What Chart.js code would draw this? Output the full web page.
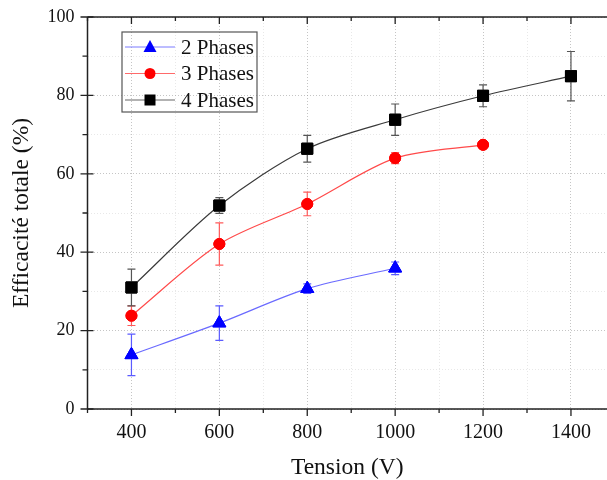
<!DOCTYPE html>
<html>
<head>
<meta charset="utf-8">
<script src="https://cdn.jsdelivr.net/npm/chart.js@4.4.0/dist/chart.umd.min.js"></script>
<style>
  html, body { margin: 0; padding: 0; background: #fff; }
  #wrap { width: 607px; height: 480px; }
</style>
</head>
<body>
<div id="wrap"><canvas id="effChart" width="607" height="480"></canvas></div>
<script>
// tension (V)
const tension = [400, 600, 800, 1000, 1200, 1400];

// efficacite totale (%) and error bars
const phases2 = [13.8, 21.9, 30.7, 35.9];
const phases2Err = [5.3, 4.4, 1.2, 1.6];
const phases3 = [23.8, 42.1, 52.3, 64.0, 67.4];
const phases3Err = [2.5, 5.4, 3.0, 1.4, 0.8];
const phases4 = [31.0, 51.9, 66.4, 73.8, 79.9, 84.9];
const phases4Err = [4.7, 2.0, 3.4, 4.0, 2.8, 6.3];

const serif = "'Liberation Serif', 'Times New Roman', serif";

function toPoints(ys) {
    return ys.map((y, i) => ({ x: tension[i], y: y }));
}

// error bars drawn from the y scale
const errorBars = {
    id: 'errorBars',
    afterDatasetsDraw(chart) {
        const ctx = chart.ctx;
        const yScale = chart.scales.y;
        chart.data.datasets.forEach((ds, di) => {
            const meta = chart.getDatasetMeta(di);
            ctx.save();
            ctx.strokeStyle = ds.errColor;
            ctx.lineWidth = 1.2;
            meta.data.forEach((pt, i) => {
                const v = ds.data[i].y;
                const e = ds.errors[i];
                const top = yScale.getPixelForValue(v + e);
                const bot = yScale.getPixelForValue(v - e);
                ctx.beginPath();
                ctx.moveTo(pt.x, top); ctx.lineTo(pt.x, bot);
                ctx.moveTo(pt.x - 4, top); ctx.lineTo(pt.x + 4, top);
                ctx.moveTo(pt.x - 4, bot); ctx.lineTo(pt.x + 4, bot);
                ctx.stroke();
            });
            ctx.restore();
            // redraw markers over the bars
            meta.data.forEach(pt => pt.draw(ctx, chart.chartArea));
        });
    }
};

// frame, ticks and the boxed legend
const frame = {
    id: 'frame',
    afterDraw(chart) {
        const ctx = chart.ctx;
        const a = chart.chartArea;
        const xs = chart.scales.x, ys = chart.scales.y;
        ctx.save();
        ctx.strokeStyle = '#222';
        ctx.lineWidth = 1.5;
        ctx.beginPath();
        ctx.moveTo(a.left, a.top); ctx.lineTo(a.right, a.top);
        ctx.moveTo(a.left, a.top); ctx.lineTo(a.left, a.bottom);
        ctx.moveTo(a.left, a.bottom); ctx.lineTo(a.right, a.bottom);
        ctx.stroke();

        ctx.lineWidth = 1.3;
        ctx.beginPath();
        xs.ticks.forEach(t => {
            const px = xs.getPixelForValue(t.value);
            const major = t.value % 200 === 0;
            const len = major ? 7 : 4;
            ctx.moveTo(px, a.bottom); ctx.lineTo(px, a.bottom + len);
            ctx.moveTo(px, a.top); ctx.lineTo(px, a.top + len);
        });
        ys.ticks.forEach(t => {
            const py = ys.getPixelForValue(t.value);
            const major = t.value % 20 === 0;
            if (major) {
                ctx.moveTo(a.left - 7, py); ctx.lineTo(a.left + 6, py);
            } else {
                ctx.moveTo(a.left - 5, py); ctx.lineTo(a.left, py);
            }
        });
        ctx.stroke();

        // legend
        const bx = 122, by = 32, bw = 135, bh = 80;
        ctx.strokeStyle = '#555';
        ctx.lineWidth = 1.2;
        ctx.strokeRect(bx, by, bw, bh);
        ctx.font = '21px ' + serif;
        ctx.textBaseline = 'middle';
        chart.data.datasets.forEach((ds, i) => {
            const y = by + 15 + i * 26.5;
            ctx.strokeStyle = ds.legendLine;
            ctx.lineWidth = 1;
            ctx.beginPath();
            ctx.moveTo(bx + 3, y); ctx.lineTo(bx + 53, y);
            ctx.stroke();
            ctx.fillStyle = ds.pointBackgroundColor;
            ctx.beginPath();
            if (ds.pointStyle === 'triangle') {
                ctx.moveTo(bx + 28, y - 7);
                ctx.lineTo(bx + 34.5, y + 5);
                ctx.lineTo(bx + 21.5, y + 5);
                ctx.closePath();
            } else if (ds.pointStyle === 'circle') {
                ctx.arc(bx + 28, y, 5.5, 0, Math.PI * 2);
            } else {
                ctx.rect(bx + 22.5, y - 5.5, 11, 11);
            }
            ctx.fill();
            ctx.fillStyle = '#111';
            ctx.fillText(ds.label, bx + 59, y + 1);
        });
        ctx.restore();
    }
};

const gridColor = (major) => major ? 'rgba(150,150,150,0.55)' : 'rgba(190,190,190,0.35)';

new Chart(document.getElementById('effChart').getContext('2d'), {
    type: 'line',
    data: {
        datasets: [
            {
                label: '2 Phases',
                data: toPoints(phases2),
                errors: phases2Err,
                errColor: '#5b5bff',
                legendLine: '#7a7aff',
                borderColor: '#6a6aff',
                borderWidth: 1.2,
                pointStyle: 'triangle',
                pointRadius: 7.5,
                pointBackgroundColor: '#0000ff',
                pointBorderColor: '#0000ff',
                pointBorderWidth: 1,
                tension: 0.3,
                fill: false
            },
            {
                label: '3 Phases',
                data: toPoints(phases3),
                errors: phases3Err,
                errColor: '#ff5a5a',
                legendLine: '#ff6a6a',
                borderColor: '#ff4a4a',
                borderWidth: 1.2,
                pointStyle: 'circle',
                pointRadius: 5.5,
                pointBackgroundColor: '#ff0000',
                pointBorderColor: '#ff0000',
                pointBorderWidth: 1,
                tension: 0.3,
                fill: false
            },
            {
                label: '4 Phases',
                data: toPoints(phases4),
                errors: phases4Err,
                errColor: '#555555',
                legendLine: '#666666',
                borderColor: '#3a3a3a',
                borderWidth: 1.2,
                pointStyle: 'rect',
                pointRadius: 7.8,
                pointBackgroundColor: '#000000',
                pointBorderColor: '#000000',
                pointBorderWidth: 1,
                tension: 0.3,
                fill: false
            }
        ]
    },
    options: {
        responsive: false,
        animation: false,
        layout: { autoPadding: false, padding: { top: 17, right: 0, left: 0, bottom: 0 } },
        plugins: {
            legend: { display: false },
            tooltip: { enabled: false }
        },
        scales: {
            x: {
                type: 'linear',
                min: 300,
                max: 1482,
                afterBuildTicks: (s) => { s.ticks = s.ticks.filter(t => t.value % 100 === 0); },
                afterFit: (s) => {
                    s.height = 71;
                    s.paddingLeft = 0;
                    s.paddingRight = 0;
                },
                ticks: {
                    stepSize: 100,
                    includeBounds: false,
                    autoSkip: false,
                    maxRotation: 0,
                    padding: 12,
                    color: '#111',
                    font: { family: serif, size: 20 },
                    callback: (v) => v % 200 === 0 ? v : ''
                },
                grid: {
                    drawTicks: false,
                    lineWidth: 1,
                    color: (c) => gridColor(c.tick && c.tick.value % 200 === 0)
                },
                border: { display: false, dash: [1, 2] },
                title: {
                    display: true,
                    text: 'Tension (V)',
                    color: '#111',
                    font: { family: serif, size: 23.5, lineHeight: 1 },
                    padding: { top: 0, bottom: 0 }
                }
            },
            y: {
                min: 0,
                max: 100,
                afterFit: (s) => {
                    s.width = 87.5;
                    s.paddingTop = 0;
                    s.paddingBottom = 0;
                },
                ticks: {
                    stepSize: 10,
                    autoSkip: false,
                    padding: 13,
                    color: '#111',
                    font: { family: serif, size: 18 },
                    callback: (v) => v % 20 === 0 ? v : ''
                },
                grid: {
                    drawTicks: false,
                    lineWidth: 1,
                    color: (c) => gridColor(c.tick && c.tick.value % 20 === 0)
                },
                border: { display: false, dash: [1, 2] },
                title: {
                    display: true,
                    text: 'Efficacité totale (%)',
                    color: '#111',
                    font: { family: serif, size: 23.5 },
                    padding: { top: 8, bottom: 0 }
                }
            }
        }
    },
    plugins: [errorBars, frame]
});
</script>
</body>
</html>
